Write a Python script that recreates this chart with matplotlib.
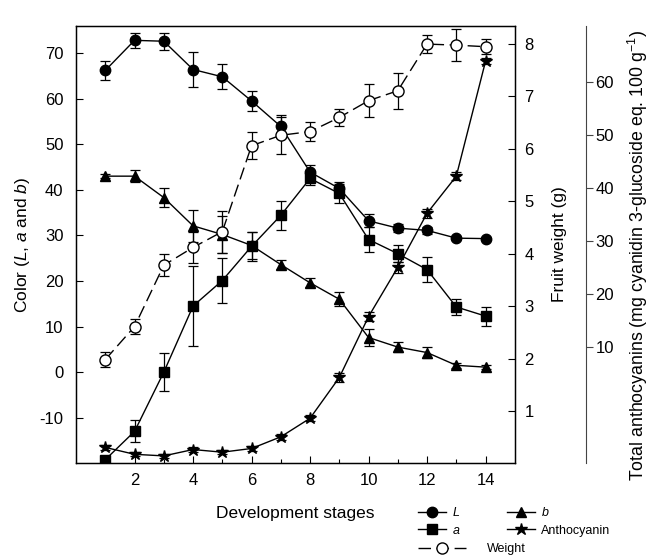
import matplotlib
matplotlib.use("Agg")
import matplotlib.pyplot as plt
import numpy as np

plt.rcParams['font.family'] = ['Liberation Sans', 'DejaVu Sans']
plt.rcParams['mathtext.fontset'] = 'custom'
plt.rcParams['mathtext.rm'] = 'Liberation Sans'
plt.rcParams['mathtext.it'] = 'Liberation Sans:italic'
plt.rcParams['axes.unicode_minus'] = False

# ---------- data ----------
stages = [1, 2, 3, 4, 5, 6, 7, 8, 9, 10, 11, 12, 13, 14]

L_val = [66.2, 72.8, 72.6, 66.4, 64.8, 59.5, 53.9, 43.9, 40.3, 33.2, 31.6, 31.1, 29.4, 29.3]
L_err = [2.0, 1.7, 1.9, 3.8, 2.7, 2.1, 2.5, 1.5, 1.5, 1.4, 0.8, 0.8, 0.4, 0.4]

a_val = [-19.2, -13.0, 0.0, 14.5, 20.1, 27.6, 34.4, 42.5, 39.2, 29.1, 26.0, 22.5, 14.3, 12.3]
a_err = [0.8, 2.4, 4.1, 8.8, 5.0, 3.2, 3.2, 1.5, 2.0, 2.8, 1.8, 2.7, 1.8, 2.1]

b_val = [43.0, 43.0, 38.3, 32.1, 30.2, 27.8, 23.6, 19.6, 16.0, 7.6, 5.5, 4.3, 1.5, 1.1]
b_err = [0.5, 1.3, 2.0, 3.5, 4.0, 3.0, 1.0, 1.0, 1.5, 1.8, 1.1, 1.3, 0.5, 0.5]

weight_val = [1.98, 2.61, 3.78, 4.12, 4.42, 6.06, 6.26, 6.33, 6.60, 6.92, 7.11, 8.00, 7.98, 7.95]
weight_err = [0.14, 0.15, 0.21, 0.30, 0.40, 0.26, 0.35, 0.18, 0.16, 0.31, 0.34, 0.17, 0.31, 0.14]

anth_val = [-9.0, -10.3, -10.6, -9.4, -9.9, -9.2, -7.0, -3.5, 4.2, 15.7, 25.0, 35.2, 42.2, 63.9]
anth_err = [0.5, 0.4, 0.4, 0.5, 0.4, 0.5, 0.6, 0.6, 0.8, 0.8, 1.0, 0.8, 0.8, 0.6]

left_ticks = [-10, 0, 10, 20, 30, 40, 50, 60, 70]
weight_ticks = [1, 2, 3, 4, 5, 6, 7, 8]
anth_ticks = [10, 20, 30, 40, 50, 60]

fig = plt.figure(figsize=(6.5, 5.56), dpi=100)
ax = fig.add_axes([0.117, 0.1667, 0.675, 0.787])
ax2 = ax.twinx()
ax3 = ax.twinx()

err_kw = dict(fmt='none', ecolor='black', elinewidth=0.9, capsize=3.6, capthick=0.9)
line_kw = dict(color='black', lw=1.0, markersize=7.5)

# colour L, a, b on left axis
ax.errorbar(stages, L_val, yerr=L_err, **err_kw)
hL, = ax.plot(stages, L_val, marker='o', label='$\\mathit{L}$', **line_kw)
ax.errorbar(stages, a_val, yerr=a_err, **err_kw)
ha, = ax.plot(stages, a_val, marker='s', label='$\\mathit{a}$', **line_kw)
ax.errorbar(stages, b_val, yerr=b_err, **err_kw)
hb, = ax.plot(stages, b_val, marker='^', label='$\\mathit{b}$', **line_kw)

# anthocyanin on third axis
ax3.errorbar(stages, anth_val, yerr=anth_err, **err_kw)
hA, = ax3.plot(stages, anth_val, marker='*', label='Anthocyanin', color='black', lw=1.0, markersize=9)

# fruit weight
ax2.errorbar(stages, weight_val, yerr=weight_err, **err_kw)
hW, = ax2.plot(stages, weight_val, marker='o', mfc='white', mec='black', color='black',
               lw=1.0, markersize=8, linestyle=(0, (9, 4)), label='Weight')

ax.set_xlim(0, 15)
ax.set_ylim(-20, 76)
ax2.set_ylim(0, 8.35)
ax3.set_ylim(-12, 70.6)

ax.set_xticks([2, 4, 6, 8, 10, 12, 14])
ax.set_xticks([1, 3, 5, 7, 9, 11, 13], minor=True)
ax.set_yticks(left_ticks)
ax2.set_yticks(weight_ticks)
ax3.set_yticks(anth_ticks)

ax.tick_params(axis='both', which='major', direction='in', length=5, width=0.8, labelsize=12)
ax.tick_params(axis='y', pad=9)
ax.tick_params(axis='x', which='minor', direction='in', length=3, width=0.8)
ax.tick_params(axis='x', pad=7)
ax2.tick_params(axis='y', direction='in', length=5, width=0.8, labelsize=12, pad=7)
ax3.tick_params(axis='y', direction='out', length=5, width=0.8, labelsize=12, pad=1.5,
                colors='#444444', labelcolor='black')

ax3.spines['right'].set_position(('axes', 1.163))
ax3.spines['right'].set_color('#444444')
for s in ['top', 'left', 'bottom']:
    ax3.spines[s].set_visible(False)

for s in ax.spines.values():
    s.set_linewidth(1.0)

ax.set_xlabel('Development stages', fontsize=12.5, labelpad=13)
ax.set_ylabel('Color ($\\mathit{L}$, $\\mathit{a}$ and $\\mathit{b}$)', fontsize=12.5)
ax.yaxis.set_label_coords(-0.100, 0.5)
ax2.set_ylabel('Fruit weight (g)', fontsize=12.5)
ax2.yaxis.set_label_coords(1.084, 0.5)
ax3.set_ylabel('Total anthocyanins (mg cyanidin 3-glucoside eq. 100 g$^{-1}$)', fontsize=12.8)
ax3.yaxis.set_label_coords(1.253, 0.475)

fig.legend(handles=[hL, ha, hb, hA], ncol=2, loc='upper left',
           bbox_to_anchor=(418 / 650, 1 - 506 / 556), frameon=False, fontsize=9,
           handlelength=2.2, handletextpad=0.5, columnspacing=3.75,
           labelspacing=0.45, borderpad=0, borderaxespad=0)
fig.legend(handles=[hW], loc='center left',
           bbox_to_anchor=(418 / 650, 1 - 549 / 556), frameon=False, fontsize=9,
           handlelength=3.8, handletextpad=1.75, borderpad=0, borderaxespad=0)

fig.savefig('out.png', dpi=100)
